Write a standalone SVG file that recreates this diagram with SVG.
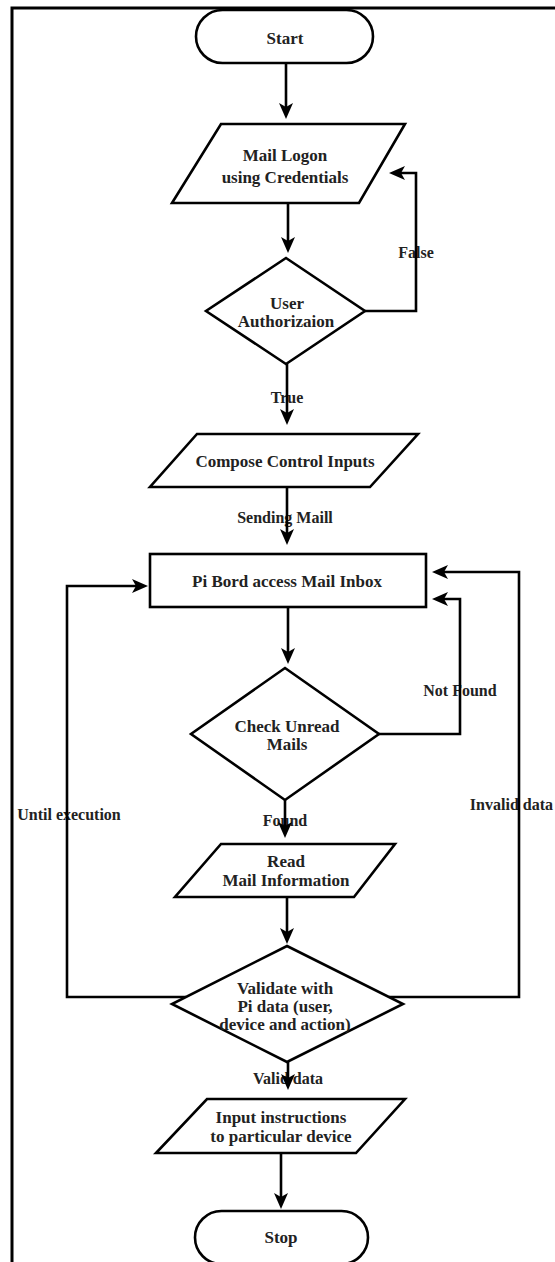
<svg xmlns="http://www.w3.org/2000/svg" width="555" height="1262" viewBox="0 0 555 1262">
<style>
.n{fill:#fff;stroke:#000;stroke-width:2.6}
.t{font-family:"Liberation Serif",serif;font-weight:bold;font-size:17px;fill:#222;text-anchor:middle}
.l{font-family:"Liberation Serif",serif;font-weight:bold;font-size:16px;fill:#222;text-anchor:middle}
.c{fill:none;stroke:#000;stroke-width:2.6;marker-end:url(#ah)}
</style>
<defs>
<marker id="ah" markerUnits="userSpaceOnUse" viewBox="0 0 16 14" markerWidth="16" markerHeight="14" refX="11" refY="7" orient="auto">
<path d="M0,0 L16,7 L0,14 L4,7 Z" fill="#000"/>
</marker>
</defs>
<rect width="555" height="1262" fill="#fff"/>
<path d="M12,1270 V8 H560" fill="none" stroke="#000" stroke-width="3"/>
<g id="labels">
<text class="l" x="416" y="258">False</text>
<text class="l" x="287" y="403">True</text>
<text class="l" x="285" y="523">Sending Maill</text>
<text class="l" x="460" y="696">Not Found</text>
<text class="l" x="69" y="820">Until execution</text>
<text class="l" x="285" y="826">Found</text>
<text class="l" x="553" y="810" style="text-anchor:end">Invalid data</text>
<text class="l" x="288" y="1084">Valid data</text>
</g>
<g id="connectors">
<path class="c" d="M286,63 V114"/>
<path class="c" d="M288,203 V248"/>
<path class="c" d="M365,311 H416 V173 H394"/>
<path class="c" d="M287,364 V420"/>
<path class="c" d="M287,487 V540"/>
<path class="c" d="M288,607 V659"/>
<path class="c" d="M379,734 H460 V599 H437"/>
<path class="c" d="M285,800 V833"/>
<path class="c" d="M287,897 V939"/>
<path class="c" d="M186,997 H67 V586 H143"/>
<path class="c" d="M389,997 H519 V572 H437"/>
<path class="c" d="M288,1062 V1085"/>
<path class="c" d="M281,1153 V1204"/>
</g>
<g id="start">
<rect class="n" x="196" y="10" width="177" height="53" rx="26.5"/>
<text class="t" x="285" y="44">Start</text>
</g>
<g id="mail-logon">
<polygon class="n" points="221,124 405,124 359,203 172,203"/>
<text class="t" x="285" y="161">Mail Logon</text>
<text class="t" x="285" y="183">using Credentials</text>
</g>
<g id="user-auth">
<polygon class="n" points="286,258 365,311 286,364 206,311"/>
<text class="t" x="287" y="309">User</text>
<text class="t" x="286" y="327">Authorizaion</text>
</g>
<g id="compose">
<polygon class="n" points="197,434 418,434 370,487 150,487"/>
<text class="t" x="285" y="467">Compose Control Inputs</text>
</g>
<g id="pi-bord">
<rect class="n" x="150" y="554" width="276" height="53"/>
<text class="t" x="287" y="587">Pi Bord access Mail Inbox</text>
</g>
<g id="check-unread">
<polygon class="n" points="285,668 379,734 285,800 191,734"/>
<text class="t" x="287" y="732">Check Unread</text>
<text class="t" x="287" y="750">Mails</text>
</g>
<g id="read-mail">
<polygon class="n" points="221,844 395,844 354,897 175,897"/>
<text class="t" x="286" y="867">Read</text>
<text class="t" x="286" y="886">Mail Information</text>
</g>
<g id="validate">
<polygon class="n" points="287,946 403,1004 287,1062 172,1004"/>
<text class="t" x="285" y="994">Validate with</text>
<text class="t" x="285" y="1012">Pi data (user,</text>
<text class="t" x="285" y="1030">device and action)</text>
</g>
<g id="input-instr">
<polygon class="n" points="207,1099 405,1099 356,1153 156,1153"/>
<text class="t" x="281" y="1123">Input instructions</text>
<text class="t" x="281" y="1142">to particular device</text>
</g>
<g id="stop">
<rect class="n" x="195" y="1211" width="173" height="53" rx="26.5"/>
<text class="t" x="281" y="1243">Stop</text>
</g>
</svg>
